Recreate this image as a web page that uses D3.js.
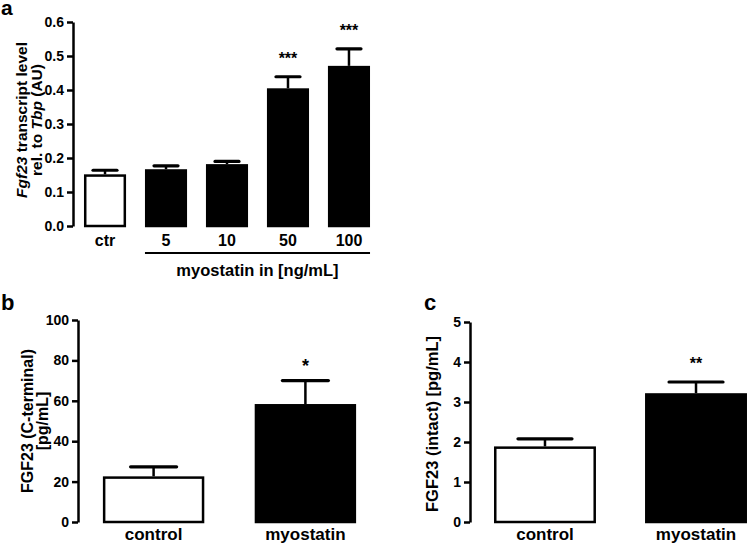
<!DOCTYPE html>
<html><head><meta charset="utf-8">
<script src="https://cdn.jsdelivr.net/npm/d3@7"></script>
<style>
body{margin:0;background:#fff;}
svg{display:block;font-family:"Liberation Sans",Arial,sans-serif;font-weight:bold;}
</style></head><body>
<svg id="chart" width="749" height="548"></svg>
<script>
// ---- data ----
const catsA = ["ctr", "5", "10", "50", "100"];
const meansA = [0.152, 0.167, 0.182, 0.405, 0.471];
const semA = [0.012, 0.010, 0.008, 0.034, 0.050];
const starsA = ["", "", "", "***", "***"];
const ticksA = [0, 0.1, 0.2, 0.3, 0.4, 0.5, 0.6];

const catsB = ["control", "myostatin"];
const meansB = [22.6, 58.4];
const semB = [4.7, 11.6];
const starsB = ["", "*"];
const ticksB = [0, 20, 40, 60, 80, 100];

const catsC = ["control", "myostatin"];
const meansC = [1.89, 3.22];
const semC = [0.19, 0.28];
const starsC = ["", "**"];
const ticksC = [0, 1, 2, 3, 4, 5];

const svg = d3.select("#chart");

function panel(opts) {
  const {cats, means, sem, stars, ticks, yDomain, yRange, xRange, pIn, pOut,
         fmt, axisX, labelY, labelSize, tickSize, capHalf, starSize, starOffset} = opts;
  const g = svg.append("g");
  const y = d3.scaleLinear().domain(yDomain).range(yRange);
  const x = d3.scaleBand().domain(cats).range(xRange).paddingInner(pIn).paddingOuter(pOut);

  const ax = g.append("g").attr("transform", `translate(${axisX},0)`)
    .call(d3.axisLeft(y).tickValues(ticks).tickFormat(fmt).tickSize(6).tickSizeOuter(0).tickPadding(3));
  ax.select(".domain").attr("stroke", "#000").attr("stroke-width", 2.5);
  ax.selectAll(".tick line").attr("stroke", "#000").attr("stroke-width", 2.5);
  ax.selectAll(".tick text").attr("fill", "#000").attr("font-size", tickSize)
    .attr("font-family", "Liberation Sans, Arial, sans-serif").attr("font-weight", "bold");

  const data = cats.map((c, i) => ({c, m: means[i], s: sem[i], st: stars[i], i}));

  // error bars
  g.selectAll(".eb").data(data).join("line")
    .attr("x1", d => x(d.c) + x.bandwidth() / 2).attr("x2", d => x(d.c) + x.bandwidth() / 2)
    .attr("y1", d => y(d.m)).attr("y2", d => y(d.m + d.s))
    .attr("stroke", "#000").attr("stroke-width", 2.5);
  g.selectAll(".cap").data(data).join("line")
    .attr("x1", d => x(d.c) + x.bandwidth() / 2 - capHalf).attr("x2", d => x(d.c) + x.bandwidth() / 2 + capHalf)
    .attr("y1", d => y(d.m + d.s)).attr("y2", d => y(d.m + d.s))
    .attr("stroke", "#000").attr("stroke-width", 3.2).attr("stroke-linecap", "round");

  // bars
  g.selectAll(".bar").data(data).join("rect")
    .attr("x", d => x(d.c) + 1.25).attr("width", x.bandwidth() - 2.5)
    .attr("y", d => y(d.m) + 1.25).attr("height", d => y(0) - y(d.m) - 1.25)
    .attr("fill", d => d.i === 0 ? "#fff" : "#000")
    .attr("stroke", "#000").attr("stroke-width", 2.5);

  // significance stars
  g.selectAll(".star").data(data.filter(d => d.st)).join("text")
    .attr("x", d => x(d.c) + x.bandwidth() / 2)
    .attr("y", d => y(d.m + d.s) - starOffset)
    .attr("text-anchor", "middle").attr("font-size", starSize).text(d => d.st);

  // category labels
  g.selectAll(".cl").data(data).join("text")
    .attr("x", d => x(d.c) + x.bandwidth() / 2).attr("y", labelY)
    .attr("text-anchor", "middle").attr("font-size", labelSize).text(d => d.c);

  return {x, y, g};
}

// ---- panel a ----
const A = panel({cats: catsA, means: meansA, sem: semA, stars: starsA, ticks: ticksA,
  yDomain: [0, 0.6], yRange: [226, 22], xRange: [73, 381], pIn: 0.31, pOut: 0.18,
  fmt: d3.format(".1f"), axisX: 73, labelY: 246, labelSize: 16, tickSize: 14,
  capHalf: 12, starSize: 16, starOffset: 13});
A.g.append("line")
  .attr("x1", A.x("5")).attr("x2", A.x("100") + A.x.bandwidth())
  .attr("y1", 253).attr("y2", 253).attr("stroke", "#000").attr("stroke-width", 2);
A.g.append("text").attr("x", (A.x("5") + A.x("100") + A.x.bandwidth()) / 2).attr("y", 276)
  .attr("text-anchor", "middle").attr("font-size", 16.5).text("myostatin in [ng/mL]");
const tA1 = A.g.append("text").attr("transform", "translate(27,120) rotate(-90)")
  .attr("text-anchor", "middle").attr("font-size", 15.5);
tA1.append("tspan").attr("font-style", "italic").text("Fgf23");
tA1.append("tspan").text(" transcript level");
const tA2 = A.g.append("text").attr("transform", "translate(42,120) rotate(-90)")
  .attr("text-anchor", "middle").attr("font-size", 15.5);
tA2.append("tspan").text("rel. to ");
tA2.append("tspan").attr("font-style", "italic").text("Tbp");
tA2.append("tspan").text(" (AU)");
svg.append("text").attr("x", 1).attr("y", 15).attr("font-size", 21).text("a");

// ---- panel b ----
const B = panel({cats: catsB, means: meansB, sem: semB, stars: starsB, ticks: ticksB,
  yDomain: [0, 100], yRange: [522, 320], xRange: [78, 381], pIn: 0.332, pOut: 0.164,
  fmt: d3.format("d"), axisX: 78, labelY: 540, labelSize: 17, tickSize: 14,
  capHalf: 23, starSize: 18, starOffset: 9});
B.g.append("text").attr("transform", "translate(33,421) rotate(-90)")
  .attr("text-anchor", "middle").attr("font-size", 16).text("FGF23 (C-terminal)");
B.g.append("text").attr("transform", "translate(48,421) rotate(-90)")
  .attr("text-anchor", "middle").attr("font-size", 16).text("[pg/mL]");
svg.append("text").attr("x", 1).attr("y", 310).attr("font-size", 22).text("b");

// ---- panel c ----
const C = panel({cats: catsC, means: meansC, sem: semC, stars: starsC, ticks: ticksC,
  yDomain: [0, 5], yRange: [522, 322], xRange: [470, 771], pIn: 0.325, pOut: 0.159,
  fmt: d3.format("d"), axisX: 470, labelY: 540, labelSize: 17, tickSize: 14,
  capHalf: 27, starSize: 16, starOffset: 13});
C.g.append("text").attr("transform", "translate(438,424) rotate(-90)")
  .attr("text-anchor", "middle").attr("font-size", 16.5).text("FGF23 (intact) [pg/mL]");
svg.append("text").attr("x", 424).attr("y", 310).attr("font-size", 22).text("c");
</script>
</body></html>
